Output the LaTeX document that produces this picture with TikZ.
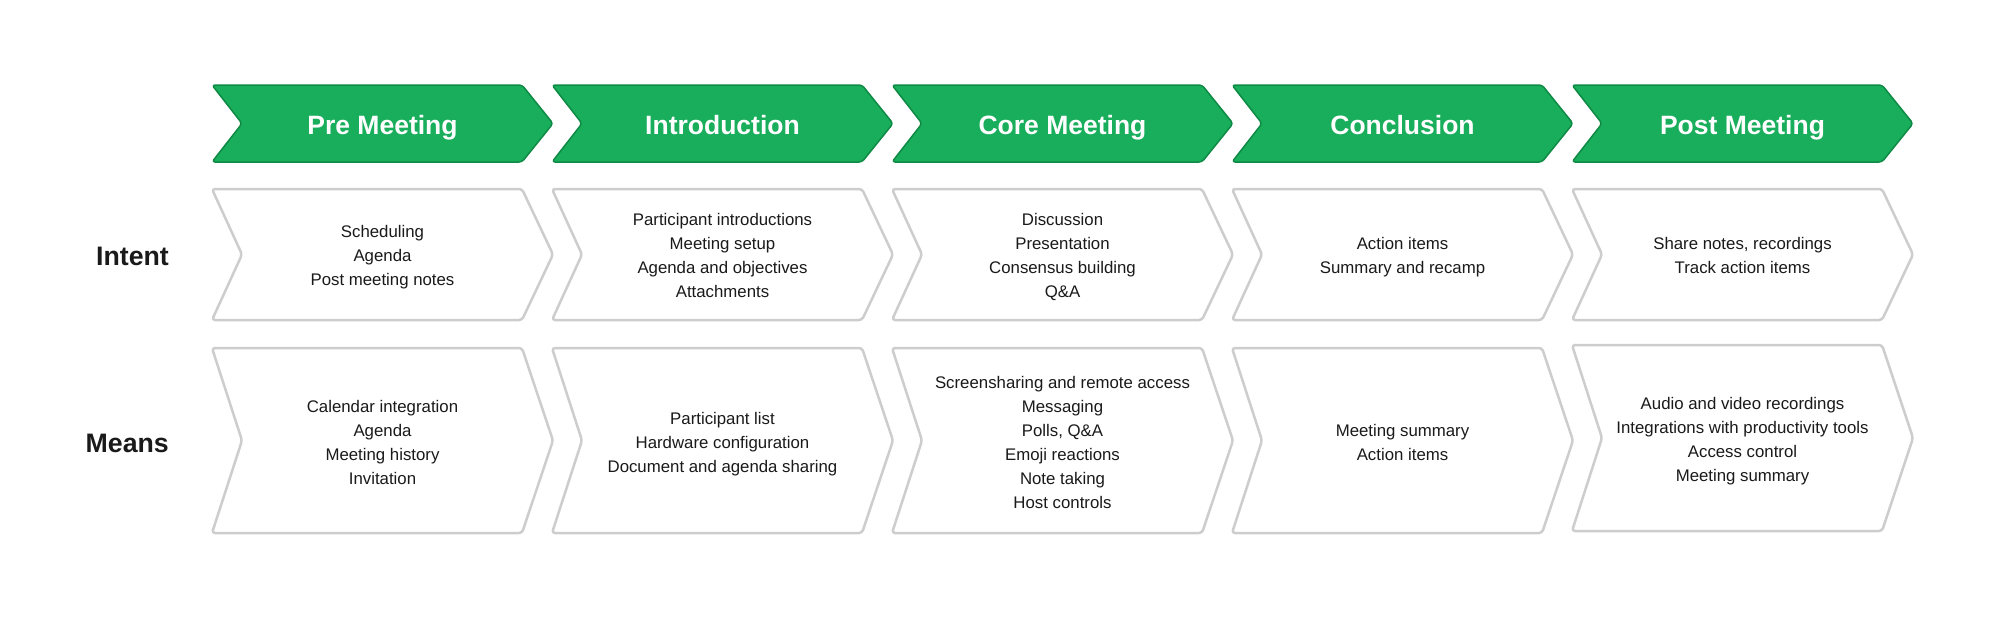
\documentclass[tikz,border=0pt]{standalone}
\usepackage{fontspec}
\setmainfont{Liberation Sans}
\definecolor{gfill}{HTML}{19AE5C}
\definecolor{gline}{HTML}{0E8A45}
\definecolor{boxline}{HTML}{CDCDCD}
\definecolor{txt}{HTML}{1A1A1A}
\tikzset{
  chevgreen/.style={fill=gfill, draw=gline, line width=1.5pt, rounded corners=3pt, line join=round},
  chevwhite/.style={fill=white, draw=boxline, line width=2.5pt, rounded corners=3pt, line join=round},
  titletext/.style={text=white, font=\fontsize{26.5}{30}\selectfont\bfseries, inner sep=0pt,
    execute at begin node={\vphantom{I}}, execute at end node={\vphantom{g}}},
  bodytext/.style={text=txt, font=\fontsize{16.8}{24}\selectfont, align=center, inner sep=0pt,
    execute at end node={\vphantom{g}}},
  rowlabel/.style={text=txt, font=\fontsize{26.7}{30}\selectfont\bfseries, anchor=east, inner sep=0pt},
}
\newcommand\chevpath[4]{%
  \draw[#4] (#1,#2) -- ({#1+310},#2) -- ({#1+341},{(#2+#3)/2}) -- ({#1+310},#3) -- (#1,#3) -- ({#1+30},{(#2+#3)/2}) -- cycle;}
\begin{document}
\begin{tikzpicture}[x=1pt,y=-1pt]
\useasboundingbox[fill=white] (0,0) rectangle (2000,621);

% green header chevrons
\chevpath{212}{85}{162}{chevgreen}
\chevpath{552}{85}{162}{chevgreen}
\chevpath{892}{85}{162}{chevgreen}
\chevpath{1232}{85}{162}{chevgreen}
\chevpath{1572}{85}{162}{chevgreen}
\node[titletext] (t1) at (382.5,127.5) {Pre Meeting};
\node[titletext] (t2) at (722.5,127.5) {Introduction};
\node[titletext] (t3) at (1062.5,127.5) {Core Meeting};
\node[titletext] (t4) at (1402.5,127.5) {Conclusion};
\node[titletext] (t5) at (1742.5,127.5) {Post Meeting};

% intent row
\chevpath{212}{189}{320}{chevwhite}
\chevpath{552}{189}{320}{chevwhite}
\chevpath{892}{189}{320}{chevwhite}
\chevpath{1232}{189}{320}{chevwhite}
\chevpath{1572}{189}{320}{chevwhite}
\node[bodytext] (i1) at (382.5,257) {Scheduling\\Agenda\\Post meeting notes};
\node[bodytext] (i2) at (722.5,257) {Participant introductions\\Meeting setup\\Agenda and objectives\\Attachments};
\node[bodytext] (i3) at (1062.5,257) {Discussion\\Presentation\\Consensus building\\Q\&A};
\node[bodytext] (i4) at (1402.5,257) {Action items\\Summary and recamp};
\node[bodytext] (i5) at (1742.5,257) {Share notes, recordings\\Track action items};

% means row
\chevpath{212}{348}{533}{chevwhite}
\chevpath{552}{348}{533}{chevwhite}
\chevpath{892}{348}{533}{chevwhite}
\chevpath{1232}{348}{533}{chevwhite}
\chevpath{1572}{345}{531}{chevwhite}
\node[bodytext] (m1) at (382.5,444) {Calendar integration\\Agenda\\Meeting history\\Invitation};
\node[bodytext] (m2) at (722.5,444) {Participant list\\Hardware configuration\\Document and agenda sharing};
\node[bodytext] (m3) at (1062.5,444) {Screensharing and remote access\\Messaging\\Polls, Q\&A\\Emoji reactions\\Note taking\\Host controls};
\node[bodytext] (m4) at (1402.5,444) {Meeting summary\\Action items};
\node[bodytext] (m5) at (1742.5,441) {Audio and video recordings\\Integrations with productivity tools\\Access control\\Meeting summary};

% row labels
\node[rowlabel] (lintent) at (169,256) {Intent};
\node[rowlabel] (lmeans) at (169,443) {Means};
\end{tikzpicture}
\end{document}
